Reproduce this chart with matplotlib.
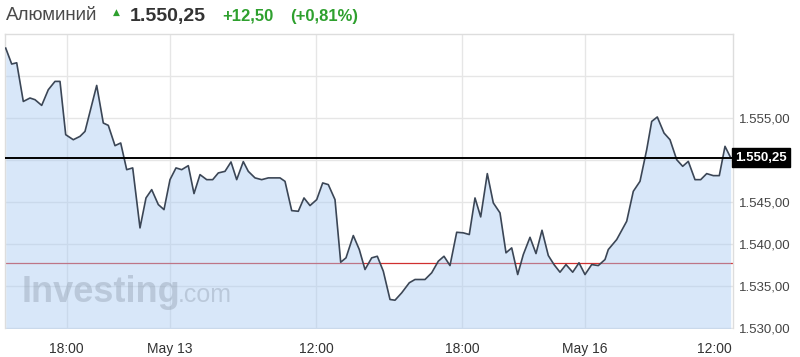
import numpy as np
import matplotlib
matplotlib.use("Agg")
import matplotlib.pyplot as plt
from matplotlib.ticker import FixedLocator, FuncFormatter
import matplotlib.transforms as mtransforms

# price series (x = position on the time axis)
t = [5.7, 11.7, 16.7, 23.3, 30, 35, 41.7, 48.3, 55, 60,
     65.7, 73.3, 80, 85, 96.7, 103.3, 108.3, 115, 120.7, 126.7,
     132.7, 140, 146, 151.7, 158.3, 164, 170, 176, 181.7, 188.3,
     194, 200, 206.7, 212.7, 218.3, 225, 231, 236.7, 243.3, 248.3,
     255, 261.7, 268.3, 274, 280, 285, 291.7, 298.3, 304, 310,
     316.7, 322.7, 328.3, 335, 340.7, 346, 353.3, 359.3, 365, 371.7,
     377.3, 383.3, 390, 395, 401.7, 409.3, 415, 420, 425, 431.7,
     438.3, 444, 450, 456.7, 463.3, 469.3, 475, 480.7, 487.3, 493.3,
     500, 506, 511.7, 517.7, 523.3, 530, 536, 542, 548.3, 554,
     560, 566, 572.7, 579, 585, 591.7, 598.3, 605, 608.3, 616.7,
     626.7, 633.3, 640, 646.7, 651.7, 657.3, 664, 670, 676.7, 682.7,
     688.3, 695, 700.7, 706.7, 713.3, 719.3, 725, 730.7]
price = [1563.32, 1561.42, 1561.57, 1556.96, 1557.37, 1557.17, 1556.49, 1558.36, 1559.35, 1559.35,
         1553.00, 1552.40, 1552.80, 1553.39, 1558.87, 1554.39, 1554.11, 1551.69, 1552.01, 1548.83,
         1549.04, 1541.89, 1545.46, 1546.45, 1544.67, 1544.07, 1547.64, 1549.04, 1548.83, 1549.31,
         1545.98, 1548.24, 1547.64, 1547.64, 1548.44, 1548.63, 1549.75, 1547.64, 1549.79, 1548.63,
         1547.85, 1547.64, 1547.85, 1547.85, 1547.85, 1547.44, 1543.95, 1543.87, 1545.46, 1544.55,
         1545.26, 1547.25, 1547.05, 1545.26, 1537.80, 1538.32, 1540.98, 1539.31, 1536.93, 1538.32,
         1538.51, 1536.73, 1533.36, 1533.27, 1534.15, 1535.35, 1535.74, 1535.74, 1535.74, 1536.54,
         1537.92, 1538.51, 1537.40, 1541.37, 1541.30, 1541.10, 1545.46, 1543.20, 1548.36, 1544.87,
         1543.68, 1538.92, 1539.51, 1536.33, 1538.71, 1540.77, 1538.83, 1541.61, 1538.60, 1537.52,
         1536.61, 1537.52, 1536.61, 1537.73, 1536.33, 1537.52, 1537.40, 1538.12, 1539.31, 1540.50,
         1542.68, 1546.25, 1547.44, 1551.21, 1554.58, 1555.11, 1553.20, 1552.40, 1550.02, 1549.23,
         1549.82, 1547.64, 1547.64, 1548.36, 1548.12, 1548.12, 1551.61, 1550.25]

last_price = 1550.25
prev_close = 1537.75
change = 12.50
change_pct = 0.81

x_tick_pos = [66.7, 170, 316, 462, 585, 732]
x_tick_labels = ["18:00", "May 13", "12:00", "18:00", "May 16", "12:00"]
y_grid = [1530, 1535, 1540, 1545, 1550, 1555, 1560]
y_labels = [1530, 1535, 1540, 1545, 1555]


def ru_num(v):
    # 1550.25 -> "1.550,25"
    s = "{:,.2f}".format(v)
    return s.replace(",", " ").replace(".", ",").replace(" ", ".")


plt.rcParams['font.family'] = ['Liberation Sans', 'DejaVu Sans']

fig = plt.figure(figsize=(8, 3.57), dpi=100)
ax = fig.add_axes([5 / 800, 1 - 328.5 / 357, 728 / 800, (328.5 - 34) / 357])

ax.set_xlim(5, 733)
ax.set_ylim(1529.9, 1565.0)

# grid
for g in y_grid:
    ax.axhline(g, color='#e6e6e6', lw=1, zorder=0)
for xp in x_tick_pos[:-1]:
    ax.axvline(xp, color='#e6e6e6', lw=1, zorder=0)

# previous close (red), drawn under the area fill
ax.axhline(prev_close, color='#d03030', lw=0.9, zorder=1)

ax.fill_between(t, price, 1529.9, color='#a9cbf2', alpha=0.45, lw=0, zorder=2)
ax.plot(t, price, color='#3b4656', lw=1.2, zorder=4)

# last price line
ax.axhline(last_price, color='black', lw=1.4, zorder=5)

ax.xaxis.set_major_locator(FixedLocator(x_tick_pos))
ax.set_xticklabels(x_tick_labels)
ax.tick_params(axis='x', length=0, pad=10, labelsize=10, labelcolor='#333333')
ax.get_xticklabels()[-1].set_ha('right')

ax.yaxis.tick_right()
ax.yaxis.set_major_locator(FixedLocator(y_labels))
ax.yaxis.set_major_formatter(FuncFormatter(lambda v, p: ru_num(v)))
ax.tick_params(axis='y', length=0, pad=4, labelsize=9.5, labelcolor='#444444')

for side in ['top', 'right', 'left']:
    ax.spines[side].set_color('#dddddd')
    ax.spines[side].set_linewidth(1)
ax.spines['bottom'].set_visible(False)

# current price box
trans = mtransforms.blended_transform_factory(ax.transAxes, ax.transData)
ax.text(1.003, last_price, ru_num(last_price), transform=trans, ha='left', va='center',
        fontsize=9.5, fontweight='bold', color='white', clip_on=False, zorder=6,
        bbox=dict(boxstyle='square,pad=0.25', fc='black', ec='black'))

# watermark
ax.text(22, 1533.0, "Investing", fontsize=26, fontweight='bold', color='#8b98a8',
        alpha=0.38, ha='left', va='baseline', zorder=3)
ax.text(178, 1533.0, ".com", fontsize=18, color='#8b98a8', alpha=0.38,
        ha='left', va='baseline', zorder=3)

# header
fig.text(6 / 800, 1 - 16 / 357, "Алюминий", fontsize=13.5, color='#4a4a4a',
         ha='left', va='center')
fig.text(113 / 800, 1 - 12 / 357, "\u25b2", fontsize=6.5, color='#2ea02e',
         ha='left', va='center', family=['DejaVu Sans'])
fig.text(130 / 800, 1 - 16 / 357, ru_num(last_price), fontsize=14, fontweight='bold',
         color='#333333', ha='left', va='center')
fig.text(222 / 800, 1 - 16 / 357, "+" + ru_num(change), fontsize=12,
         fontweight='bold', color='#2ea02e', ha='left', va='center')
fig.text(290 / 800, 1 - 16 / 357, "(+{:.2f}%)".format(change_pct).replace(".", ","),
         fontsize=12, fontweight='bold', color='#2ea02e', ha='left', va='center')

fig.savefig("out.png", dpi=100)
